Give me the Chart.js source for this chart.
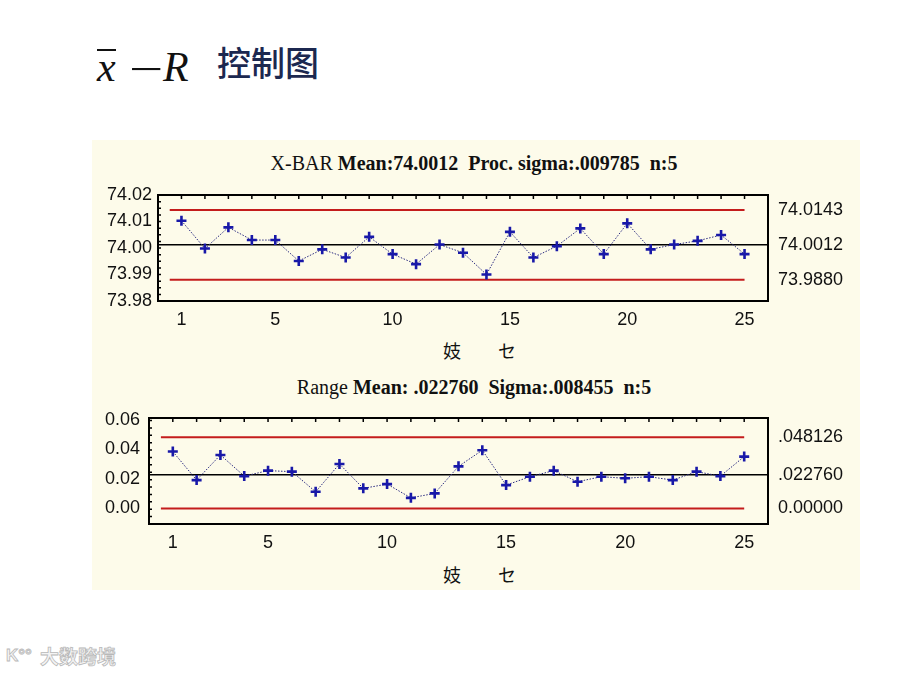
<!DOCTYPE html>
<html>
<head>
<meta charset="utf-8">
<script src="https://cdn.jsdelivr.net/npm/chart.js@4.4.1/dist/chart.umd.min.js"></script>
<style>
  body { margin: 0; width: 900px; height: 675px; background: #fff; position: relative; overflow: hidden; font-family: "Liberation Sans", Arial, sans-serif; }
  .abs { position: absolute; white-space: nowrap; }
  #panel { left: 92px; top: 140px; width: 768px; height: 450px; background: #fdfbea; }
  .math { font-family: "Liberation Serif", "DejaVu Serif", serif; font-style: italic; font-size: 42px; line-height: 42px; color: #111; }
  .cn { font-family: "Noto Sans CJK SC", sans-serif; font-size: 34px; line-height: 34px; color: #1c2850; font-weight: 500; }
  .ctitle { font-family: "Liberation Serif", "DejaVu Serif", serif; font-size: 20px; line-height: 22px; color: #111; transform: translateX(-50%); }
  .ctitle b { font-weight: bold; }
  .axt { font-family: "Noto Sans CJK JP", "Noto Sans CJK SC", sans-serif; font-size: 18px; line-height: 18px; color: #111; transform: translateX(-50%); }
  canvas { position: absolute; }
  .wm { font-family: "Noto Sans CJK SC", sans-serif; font-weight: bold; color: #f4f4f4; -webkit-text-stroke: 0.8px #b8b8b8; }
</style>
</head>
<body>
<div id="panel" class="abs"></div>

<span class="abs math" style="left:97px; top:46px;"><span style="display:inline-block; border-top:2px solid #111; line-height:32px;">x</span></span>
<span class="abs math" style="left:129px; top:48px; font-style:normal; font-weight:300; display:inline-block; transform-origin:left; transform:scaleX(1.45);">&minus;</span>
<span class="abs math" style="left:163px; top:46px;">R</span>
<span class="abs cn" style="left:217px; top:45px;">控制图</span>

<div class="abs ctitle" style="left:474px; top:152px;">X-BAR <b>Mean:74.0012&nbsp; Proc. sigma:.009785&nbsp; n:5</b></div>
<div class="abs ctitle" style="left:474px; top:376px;">Range <b>Mean: .022760&nbsp; Sigma:.008455&nbsp; n:5</b></div>

<canvas id="xbarChart" width="780" height="150" style="left:90px; top:180px;"></canvas>
<canvas id="rangeChart" width="780" height="150" style="left:90px; top:405px;"></canvas>

<span class="abs axt" style="left:452px; top:341px;">妓</span>
<span class="abs axt" style="left:507px; top:341px;">セ</span>
<span class="abs axt" style="left:452px; top:565px;">妓</span>
<span class="abs axt" style="left:507px; top:565px;">セ</span>

<span class="abs wm" style="left:6px; top:646px; font-size:17px; font-family:'Liberation Sans',sans-serif;">K°°</span>
<span class="abs wm" style="left:40px; top:646px; font-size:19px; line-height:20px;">大数跨境</span>

<script>
// sample numbers 1..25
const samples = [1, 2, 3, 4, 5, 6, 7, 8, 9, 10, 11, 12, 13, 14, 15, 16, 17, 18, 19, 20, 21, 22, 23, 24, 25];
const xTicks = [1, 5, 10, 15, 20, 25];

// X-bar chart
const xbarValues = [74.0103, 73.9998, 74.0078, 74.0030, 74.0030, 73.9951, 73.9995, 73.9964, 74.0042, 73.9977,
  73.9939, 74.0013, 73.9982, 73.9900, 74.0061, 73.9964, 74.0007, 74.0074, 73.9977, 74.0093,
  73.9995, 74.0013, 74.0027, 74.0049, 73.9977];
const xbarLimits = [74.0143, 74.0012, 73.9880]; // UCL, CL, LCL
const xbarLimitLabels = ["74.0143", "74.0012", "73.9880"];
const xbarTicks = [73.98, 73.99, 74.00, 74.01, 74.02];

// Range chart
const rangeValues = [0.0385, 0.0192, 0.0362, 0.0219, 0.0256, 0.0249, 0.0113, 0.0301, 0.0136, 0.0165,
  0.0072, 0.0102, 0.0285, 0.0394, 0.0158, 0.0215, 0.0256, 0.0181, 0.0215, 0.0204,
  0.0215, 0.0192, 0.0249, 0.0219, 0.0351];
const rangeLimits = [0.048126, 0.022760, 0.0];
const rangeLimitLabels = [".048126", ".022760", "0.00000"];
const rangeTicks = [0.00, 0.02, 0.04, 0.06];

const tickFont = { family: "'Liberation Sans', Arial, sans-serif", size: 18 };

// frame + small inner tick marks
const framePlugin = {
  id: "frame",
  afterDraw(chart) {
    const { ctx, chartArea: a, scales } = chart;
    ctx.save();
    ctx.strokeStyle = "#000";
    ctx.lineWidth = 1.5;
    ctx.beginPath();
    samples.forEach(s => {
      const px = scales.x.getPixelForValue(s);
      ctx.moveTo(px, a.top);
      ctx.lineTo(px, a.top + 4);
    });
    const yMinor = chart.options.minorStep;
    for (let v = scales.y.min; v <= scales.y.max + 1e-9; v += yMinor) {
      const py = scales.y.getPixelForValue(v);
      ctx.moveTo(a.left, py);
      ctx.lineTo(a.left + 3, py);
    }
    ctx.stroke();
    ctx.lineWidth = 2;
    ctx.strokeRect(a.left, a.top, a.right - a.left, a.bottom - a.top);
    ctx.restore();
  }
};

// fixed axis sizes, no extra room for overhanging labels
const noPad = s => { s.paddingTop = 0; s.paddingBottom = 0; s.paddingLeft = 0; s.paddingRight = 0; };

function makeChart(id, values, limits, limitLabels, leftTicks, cfg) {
  const pts = samples.map((s, i) => ({ x: s, y: values[i] }));
  const limitLine = (v, x0, x1, color, w) => ({
    data: [{ x: x0, y: v }, { x: x1, y: v }],
    borderColor: color,
    borderWidth: w,
    pointRadius: 0,
    fill: false
  });
  return new Chart(document.getElementById(id).getContext("2d"), {
    type: "line",
    data: {
      datasets: [
        {
          data: pts,
          borderColor: "#2a2a80",
          borderWidth: 1,
          borderDash: [1.5, 1.5],
          pointStyle: "cross",
          pointRadius: 5,
          pointBorderWidth: 2.6,
          pointBorderColor: "#1818a8",
          fill: false
        },
        limitLine(limits[0], 0.5, 25, "#c41c1c", 2),
        limitLine(limits[1], 0, 26, "#000", 1.5),
        limitLine(limits[2], 0.5, 25, "#c41c1c", 2)
      ]
    },
    options: {
      responsive: false,
      animation: false,
      minorStep: cfg.minorStep,
      layout: { padding: { top: cfg.topPad, left: 0, right: 0, bottom: 0 } },
      plugins: { legend: { display: false }, tooltip: { enabled: false } },
      scales: {
        x: {
          type: "linear",
          min: 0,
          max: 26,
          grid: { display: false, drawTicks: false },
          border: { display: false },
          afterBuildTicks: s => { s.ticks = xTicks.map(v => ({ value: v })); },
          afterFit: s => { s.height = cfg.xHeight; noPad(s); },
          ticks: { font: tickFont, color: "#111", padding: 8, maxRotation: 0 }
        },
        y: {
          position: "left",
          min: cfg.min,
          max: cfg.max,
          grid: { display: false, drawTicks: false },
          border: { display: false },
          afterBuildTicks: s => { s.ticks = leftTicks.map(v => ({ value: v })); },
          afterFit: s => { s.width = cfg.leftWidth; noPad(s); },
          ticks: { font: tickFont, color: "#111", padding: cfg.leftPad, callback: v => v.toFixed(2) }
        },
        y2: {
          position: "right",
          min: cfg.min,
          max: cfg.max,
          grid: { display: false, drawTicks: false },
          border: { display: false },
          afterBuildTicks: s => { s.ticks = limits.map(v => ({ value: v })); },
          afterFit: s => { s.width = 102; noPad(s); },
          ticks: { font: tickFont, color: "#111", padding: 10, callback: (v, i) => limitLabels[i] }
        }
      }
    },
    plugins: [framePlugin]
  });
}

makeChart("xbarChart", xbarValues, xbarLimits, xbarLimitLabels, xbarTicks,
  { min: 73.98, max: 74.02, leftWidth: 68, leftPad: 6, topPad: 15, xHeight: 29, minorStep: 0.0025 });
makeChart("rangeChart", rangeValues, rangeLimits, rangeLimitLabels, rangeTicks,
  { min: -0.0105, max: 0.0612, leftWidth: 59, leftPad: 9, topPad: 13, xHeight: 31, minorStep: 0.005 });
</script>
</body>
</html>
